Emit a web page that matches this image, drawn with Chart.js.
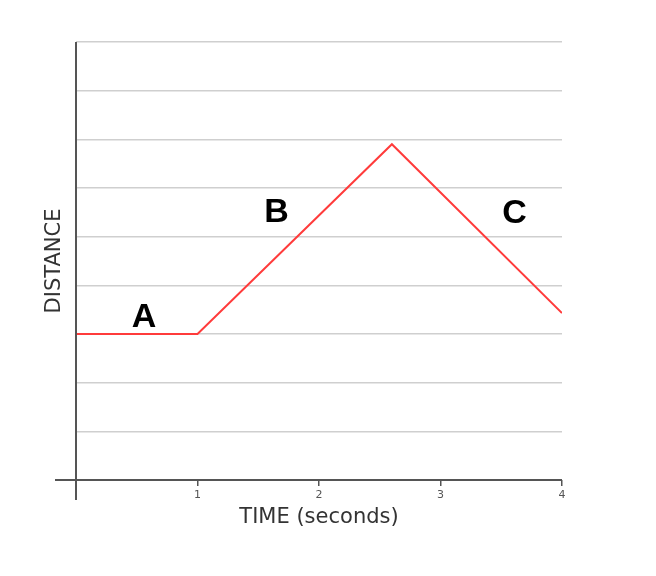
<!DOCTYPE html>
<html>
<head>
<meta charset="utf-8">
<script src="https://cdn.jsdelivr.net/npm/chart.js@4"></script>
<style>
  html, body { margin: 0; padding: 0; background: #fff; }
  #wrap { width: 656px; height: 576px; }
</style>
</head>
<body>
<div id="wrap"><canvas id="myChart" width="656" height="576"></canvas></div>
<script>
// time (s) and distance
const times = [0, 1, 2.6, 4];
const distances = [3, 3, 6.9, 3.43];

// segment letters, anchored in data units
const segNames = ['A', 'B', 'C'];
const segX = [0.56, 1.65, 3.61];
const segY = [3.33, 5.49, 5.47];

const xTicks = [1, 2, 3, 4];

const points = times.map((t, i) => ({ x: t, y: distances[i] }));

// draw the two axis lines on top, a little past the origin like the original
const axesPlugin = {
    id: 'axes',
    afterDraw(chart) {
        const { ctx, scales: { x, y } } = chart;
        const x0 = x.getPixelForValue(0), x1 = x.getPixelForValue(4);
        const y0 = y.getPixelForValue(0), y1 = y.getPixelForValue(9);
        ctx.save();
        ctx.strokeStyle = '#555';
        ctx.lineWidth = 2;
        ctx.beginPath();
        ctx.moveTo(x0 - 21, y0);
        ctx.lineTo(x1, y0);
        ctx.moveTo(x0, y1);
        ctx.lineTo(x0, y0 + 20);
        ctx.stroke();
        ctx.restore();
    }
};

const lettersPlugin = {
    id: 'letters',
    afterDatasetsDraw(chart) {
        const { ctx, scales: { x, y } } = chart;
        ctx.save();
        ctx.fillStyle = '#000';
        ctx.font = 'bold 34px "Liberation Sans", Arial, sans-serif';
        ctx.textAlign = 'center';
        ctx.textBaseline = 'middle';
        segNames.forEach((s, i) => {
            ctx.fillText(s, x.getPixelForValue(segX[i]), y.getPixelForValue(segY[i]));
        });
        ctx.restore();
    }
};

const ctx = document.getElementById('myChart').getContext('2d');
const chart = new Chart(ctx, {
    type: 'line',
    data: {
        datasets: [{
            data: points,
            borderColor: '#ff3b3b',
            borderWidth: 2,
            pointRadius: 0,
            tension: 0,
            fill: false
        }]
    },
    options: {
        responsive: false,
        animation: false,
        layout: { padding: { left: 0, top: 42, right: 94, bottom: 0 } },
        plugins: {
            legend: { display: false },
            tooltip: { enabled: false }
        },
        scales: {
            x: {
                type: 'linear',
                min: 0,
                max: 4,
                afterFit: s => { s.height = 96; },
                afterBuildTicks: s => { s.ticks = [0].concat(xTicks).map(v => ({ value: v })); },
                border: { display: false },
                grid: {
                    drawOnChartArea: false,
                    drawTicks: true,
                    tickLength: 6,
                    color: '#555',
                    lineWidth: 1.5
                },
                ticks: {
                    padding: 3,
                    maxRotation: 0,
                    color: '#555',
                    font: { family: 'DejaVu Sans', size: 11 },
                    callback: v => (v === 0 ? '' : v)
                },
                title: {
                    display: true,
                    text: 'TIME (seconds)',
                    color: '#333',
                    font: { family: 'DejaVu Sans', size: 21, lineHeight: 1 },
                    padding: { top: 0, bottom: 48 }
                }
            },
            y: {
                min: 0,
                max: 9,
                afterFit: s => { s.width = 76; },
                border: { display: false },
                grid: { color: '#cfcfcf', lineWidth: 1.5, drawTicks: false },
                ticks: { display: false, stepSize: 1 },
                title: {
                    display: true,
                    text: 'DISTANCE',
                    color: '#333',
                    font: { family: 'DejaVu Sans', size: 21, lineHeight: 1 },
                    padding: { top: 44, bottom: 0 }
                }
            }
        }
    },
    plugins: [lettersPlugin, axesPlugin]
});
</script>
</body>
</html>
